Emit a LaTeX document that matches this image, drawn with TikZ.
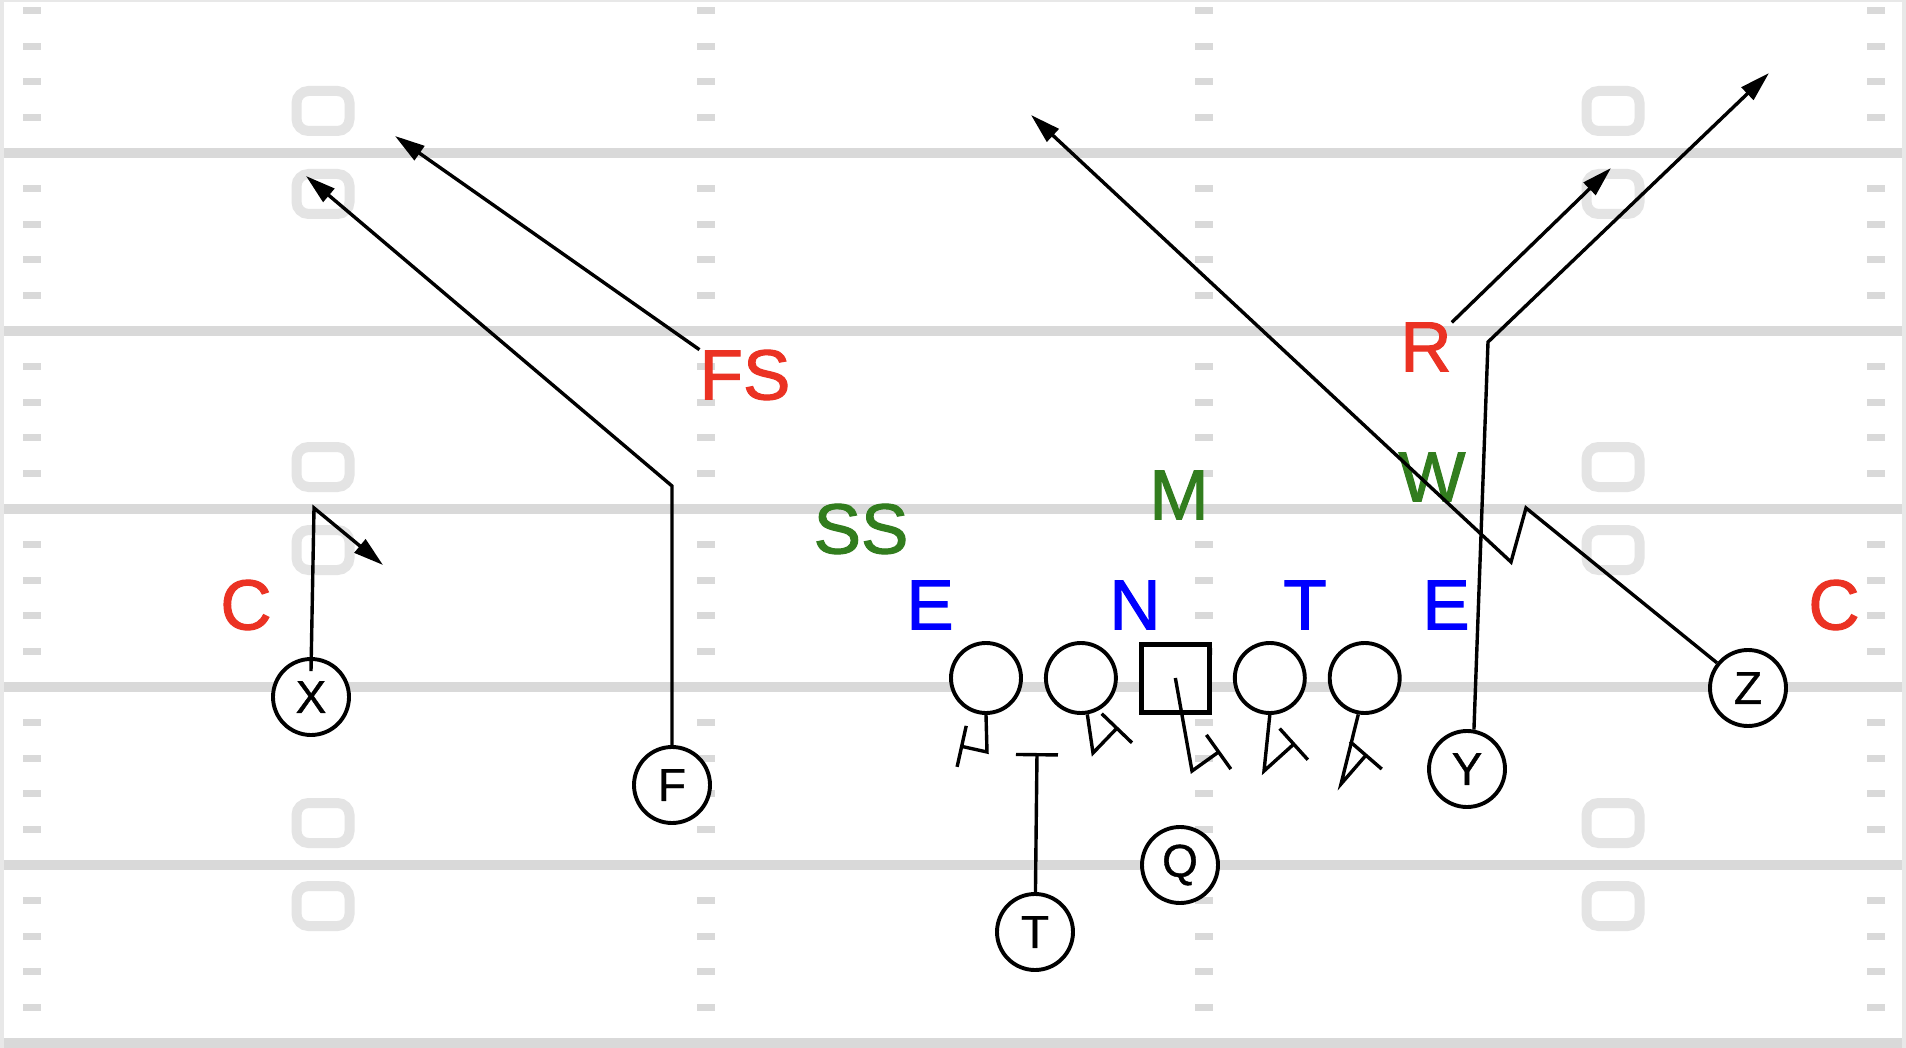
\documentclass[tikz,border=0pt]{standalone}
\usepackage{fontspec}
\setmainfont{Liberation Sans}
\newfontfamily\labelfont[FakeBold=1.5]{Liberation Sans}
\newfontfamily\playerfont[FakeBold=0.8]{Liberation Sans}
\usetikzlibrary{arrows.meta,positioning}

\definecolor{fieldgray}{RGB}{217,217,217}
\definecolor{numgray}{RGB}{228,228,228}
\definecolor{bordergray}{RGB}{232,232,232}
\definecolor{dbred}{RGB}{235,50,35}
\definecolor{lbgreen}{RGB}{50,125,30}
\definecolor{dlblue}{RGB}{0,0,255}

\begin{document}
\begin{tikzpicture}[
    x=1pt, y=-1pt,
    player/.style={circle, draw, fill=white, line width=3.9pt, minimum size=76pt, inner sep=0pt, font=\playerfont\fontsize{46}{50}\selectfont},
    lineman/.style={circle, draw, fill=white, line width=3.9pt, minimum size=70pt, inner sep=0pt},
    snapper/.style={rectangle, draw, fill=white, line width=5pt, minimum size=68pt, inner sep=0pt},
    defender/.style={inner sep=0pt, font=\labelfont\fontsize{71}{75}\selectfont},
    route/.style={line width=3.4pt, -{Triangle[length=30pt, width=17pt]}},
    block/.style={line width=3.4pt, -{Bar[width=42pt]}},
    yardline/.style={draw=fieldgray, line width=10pt},
    hashmark/.style={fill=fieldgray},
    numeral/.style={draw=numgray, line width=10pt, rounded corners=12pt}
]
\useasboundingbox (0,0) rectangle (1906,1048);

% Field
\fill[white] (0,0) rectangle (1906,1048);
\fill[bordergray] (0,0) rectangle (4,1048);
\fill[bordergray] (1902,0) rectangle (1906,1048);
\fill[bordergray] (0,0) rectangle (1906,2);
\foreach \y in {153,331,509,687,865,1043}
    \draw[yardline] (4,\y) -- (1902,\y);
\foreach \y in {-25,153,...,865}
    \foreach \i in {1,...,4}
        \foreach \x in {32,706,1204,1876}
            \fill[hashmark] ({\x-9},{\y+35.6*\i-3.5}) rectangle ++(18,7);
\foreach \x in {323,1613}
    \foreach \y in {111,194,467,550,823,906}
        \draw[numeral] ({\x-26.5},{\y-20}) rectangle ++(53,40);

% Offense
\node[player] (xrec) at (311,697) {X};
\node[player] (fback) at (672,785) {F};
\node[player] (tback) at (1035,932) {T};
\node[player] (qb) at (1180,865) {Q};
\node[player] (ytight) at (1467,769) {Y};
\node[player] (zrec) at (1748,688) {Z};

% Offensive line
\node[lineman] (ltk) at (986,678) {};
\node[lineman, right=21pt of ltk] (lgd) {};
\node[snapper, right=21pt of lgd] (ctr) {};
\node[lineman, right=21pt of ctr] (rgd) {};
\node[lineman, right=21pt of rgd] (rtk) {};

% Defense
\node[defender, text=dbred] (cbl) at (246,605) {C};
\node[defender, text=dbred] (cbr) at (1834,605) {C};
\node[defender, text=dbred] (fs) at (745,375) {FS};
\node[defender, text=dbred] (rov) at (1426,347) {R};
\node[defender, text=lbgreen] (ss) at (861,529) {SS};
\node[defender, text=lbgreen] (mike) at (1179,495) {M};
\node[defender, text=lbgreen] (will) at (1432,477) {W};
\node[defender, text=dlblue] (lend) at (930,605) {E};
\node[defender, text=dlblue] (nose) at (1135,605) {N};
\node[defender, text=dlblue] (tack) at (1305,605) {T};
\node[defender, text=dlblue] (rend) at (1446,605) {E};

% Route points
\coordinate (xbreak) at (314,508);
\coordinate (xout) at (383,565);
\coordinate (fbreak) at (672,486);
\coordinate (fdeep) at (306,176);
\coordinate (fsdeep) at (395,136);
\coordinate (rovdeep) at (1611,168);
\coordinate (ybreak) at (1488,342);
\coordinate (ydeep) at (1769,73);
\coordinate (zstem) at (1526,508);
\coordinate (zdip) at (1511,562);
\coordinate (zdeep) at (1031,115);

% Routes
\draw[route] ([yshift=-14pt]xrec.north) -- (xbreak) -- (xout);
\draw[route] (fback) -- (fbreak) -- (fdeep);
\draw[route] (fs.north west) -- (fsdeep);
\draw[route] (rov.north east) -- (rovdeep);
\draw[route] (ytight.80) -- (ybreak) -- (ydeep);
\draw[route] (zrec) -- (zstem) -- (zdip) -- (zdeep);

% Blocks
\draw[block] (ltk.south) -- (987,752) -- (960,746);
\draw[block] (lgd.-80) -- (1093,753) -- (1118,727);
\draw[block] (ctr.center) -- (1192,771) -- (1220,751);
\draw[block] (rgd.south) -- (1264,771) -- (1295,743);
\draw[block] (rtk.-100) -- (1341,784) -- (1367,754);
\draw[line width=3.4pt, -{Bar[width=42pt]}] (tback) -- (1037,753);

\end{tikzpicture}
\end{document}
